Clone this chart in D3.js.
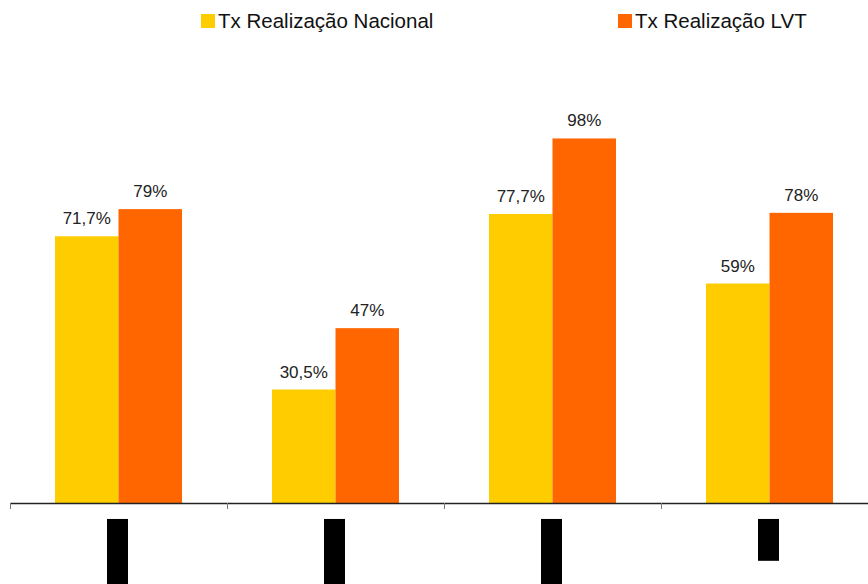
<!DOCTYPE html>
<html><head><meta charset="utf-8">
<script src="https://cdn.jsdelivr.net/npm/d3@7"></script>
<style>body{margin:0;background:#fff}svg{display:block;font-family:"Liberation Sans",Arial,sans-serif}</style>
</head><body><svg id="c" width="868" height="584"></svg>
<script>
const categories = ["2005/2006", "2006/2007", "2007/2008", "2009"];
const seriesNames = ["Tx Realização Nacional", "Tx Realização LVT"];
const nacional = [71.7, 30.5, 77.7, 59];
const lvt = [79, 47, 98, 78];
const colors = ["#FFCC00", "#FF6600"];

const svg = d3.select("#c");
const baseY = 503;
const x = d3.scaleBand().domain(categories).range([10, 878]).padding(0);
const xs = d3.scaleBand().domain(seriesNames).range([45, 172]).padding(0);
const y = d3.scaleLinear().domain([0, 100]).range([baseY, 131]);
const fmt = v => (Number.isInteger(v) ? String(v) : d3.format(".1f")(v).replace(".", ",")) + "%";

const rows = categories.map((c, i) => ({c, vals: [nacional[i], lvt[i]]}));

const g = svg.selectAll("g.cat").data(rows).join("g").attr("class", "cat")
  .attr("transform", d => `translate(${x(d.c)},0)`);
g.selectAll("rect").data(d => d.vals.map((v, j) => ({v, s: seriesNames[j], j})))
  .join("rect")
  .attr("x", d => xs(d.s)).attr("width", xs.bandwidth())
  .attr("y", d => y(d.v)).attr("height", d => baseY - y(d.v))
  .attr("fill", d => colors[d.j]);
g.selectAll("text.val").data(d => d.vals.map((v, j) => ({v, s: seriesNames[j]})))
  .join("text").attr("class", "val")
  .attr("x", d => xs(d.s) + xs.bandwidth() / 2)
  .attr("y", d => y(d.v) - 12)
  .attr("text-anchor", "middle").attr("font-size", 17).attr("fill", "#222")
  .text(d => fmt(d.v));

// axis with ticks at category boundaries
const xi = d3.scaleLinear().domain([0, categories.length]).range([10, 878]);
const ax = svg.append("g").attr("transform", `translate(0,${baseY})`)
  .call(d3.axisBottom(xi).tickValues(d3.range(categories.length)).tickFormat("").tickSize(6).tickSizeOuter(0));
ax.select(".domain").attr("stroke", "#222").attr("stroke-width", 1.5);
ax.selectAll(".tick line").attr("stroke", "#777");

// rotated category labels (rendered as dark blocks as in the reference)
const lab = svg.selectAll("g.lab").data(categories).join("g").attr("class", "lab")
  .attr("transform", d => `translate(${x(d) + x.bandwidth() / 2 - 1},519) rotate(-90)`);
lab.append("text").attr("text-anchor", "end").attr("dy", "0.35em")
  .attr("x", -4).attr("font-size", 12.5).attr("fill", "#000").text(d => d);
lab.each(function () {
  const t = d3.select(this).select("text").node().getBBox();
  d3.select(this).insert("rect", "text")
    .attr("x", t.x - 10).attr("y", -10.5).attr("width", t.width + 14).attr("height", 21)
    .attr("fill", "#000");
});

// legend
const legX = [201, 618];
const leg = svg.selectAll("g.leg").data(seriesNames).join("g").attr("class", "leg")
  .attr("transform", (d, i) => `translate(${legX[i]},14)`);
leg.append("rect").attr("width", 14).attr("height", 14).attr("fill", (d, i) => colors[i]);
leg.append("text").attr("x", 17).attr("y", 13.5).attr("font-size", 20.5).attr("fill", "#111").text(d => d);
</script></body></html>
